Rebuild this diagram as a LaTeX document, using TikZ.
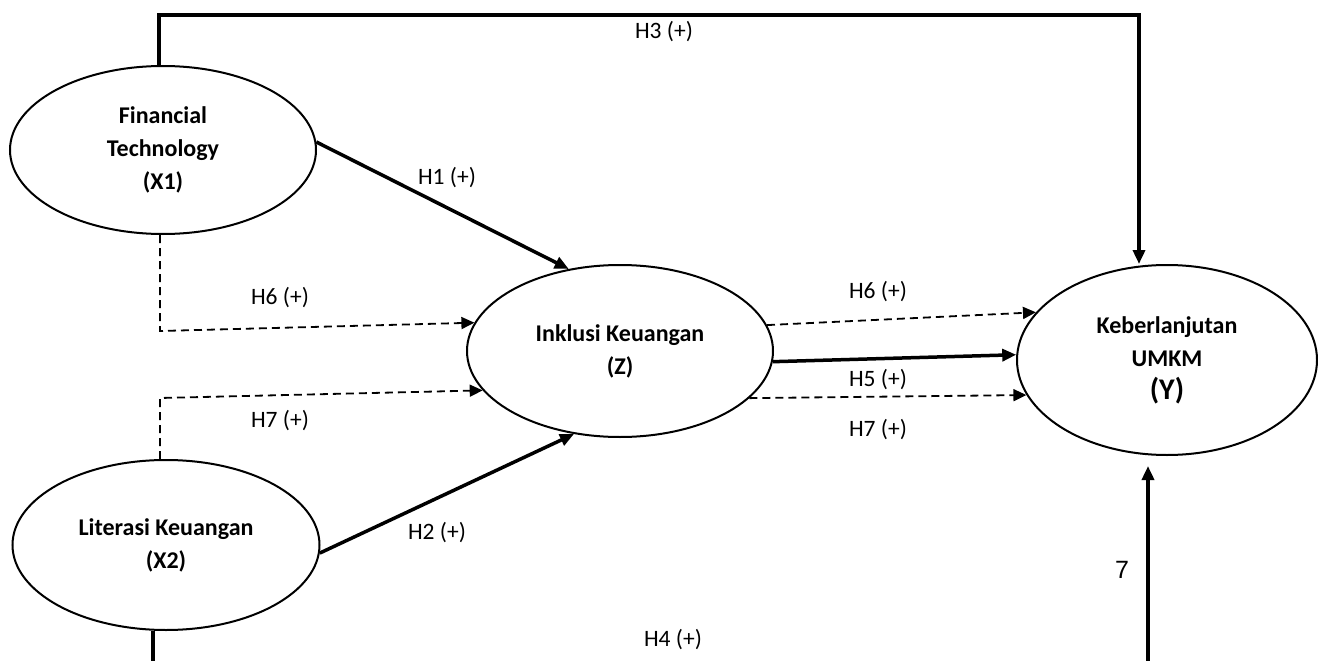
\documentclass[tikz,border=0pt]{standalone}
\usepackage{fontspec}
\setmainfont{Carlito}
\newfontfamily\arialfont{Liberation Sans}
\usetikzlibrary{shapes.geometric,arrows.meta}
\begin{document}
\begin{tikzpicture}[x=1pt, y=-1pt,
        >={Triangle[length=14pt,width=12pt]},
        var/.style={draw, ellipse, line width=2pt, inner sep=0pt, align=center,
            font=\fontsize{24}{33}\selectfont\bfseries},
        hyp/.style={inner sep=0pt, font=\fontsize{23.5}{26}\selectfont},
        main/.style={->, line width=3.5pt},
        med/.style={->, line width=1.8pt, dash pattern=on 8pt off 5pt,
            >={Triangle[length=13pt,width=12pt]}}]
            \useasboundingbox (0,0) rectangle (1318,661);
            \clip (0,0) rectangle (1318,661);

            \draw (163,150) node[var, minimum width=306pt, minimum height=168pt] (x1) {Financial\\Technology\\(X1)};
            \draw (166,545) node[var, minimum width=307pt, minimum height=170pt] (x2) {Literasi Keuangan\\(X2)};
            \draw (620,351) node[var, minimum width=306pt, minimum height=172pt] (z) {Inklusi Keuangan\\(Z)};
            \draw (1167,360) node[var, minimum width=300pt, minimum height=190pt] (y) {Keberlanjutan\\UMKM\\{\fontsize{30}{34}\selectfont(Y)}};

            \coordinate (t1) at (159,15);
            \coordinate (t2) at (1139,15);
            \coordinate (b1) at (153,700);
            \coordinate (b2) at (1148,700);
            \coordinate (c6) at (160,331);
            \coordinate (c7) at (160,398);

            \draw[main] (x1.north -| t1) -- (t1) -- (t2) -- (t2 |- y.north);
            \draw[main, shorten >=10pt] (x2.south -| b1) -- (b1) -- (b2) -- (b2 |- y.south);
            \draw[main] (x1.3) -- (z.122);
            \draw[main] (x2.-3) -- (z.241);
            \draw[main] (z.-4) -- (y.178);
            \draw[med] (x1.south -| c6) -- (c6) -- (z.169);
            \draw[med] (x2.north -| c7) -- (c7) -- (z.196);
            \draw[med] (z.10) -- (y.160);
            \draw[med] (z.-20) -- (y.194);

            \node[hyp] (l3) at (664,32) {H3 (+)};
            \node[hyp] (l1) at (447,178) {H1 (+)};
            \node[hyp] (l6a) at (280,298) {H6 (+)};
            \node[hyp] (l7a) at (280,421) {H7 (+)};
            \node[hyp] (l2) at (437,533) {H2 (+)};
            \node[hyp] (l6b) at (878,292) {H6 (+)};
            \node[hyp] (l5) at (878,380) {H5 (+)};
            \node[hyp] (l7b) at (878,430) {H7 (+)};
            \node[hyp] (l4) at (673,640) {H4 (+)};
            \node[inner sep=0pt, font=\arialfont\fontsize{25}{30}\selectfont] (l7) at (1122,570) {7};
        \end{tikzpicture}
\end{document}
